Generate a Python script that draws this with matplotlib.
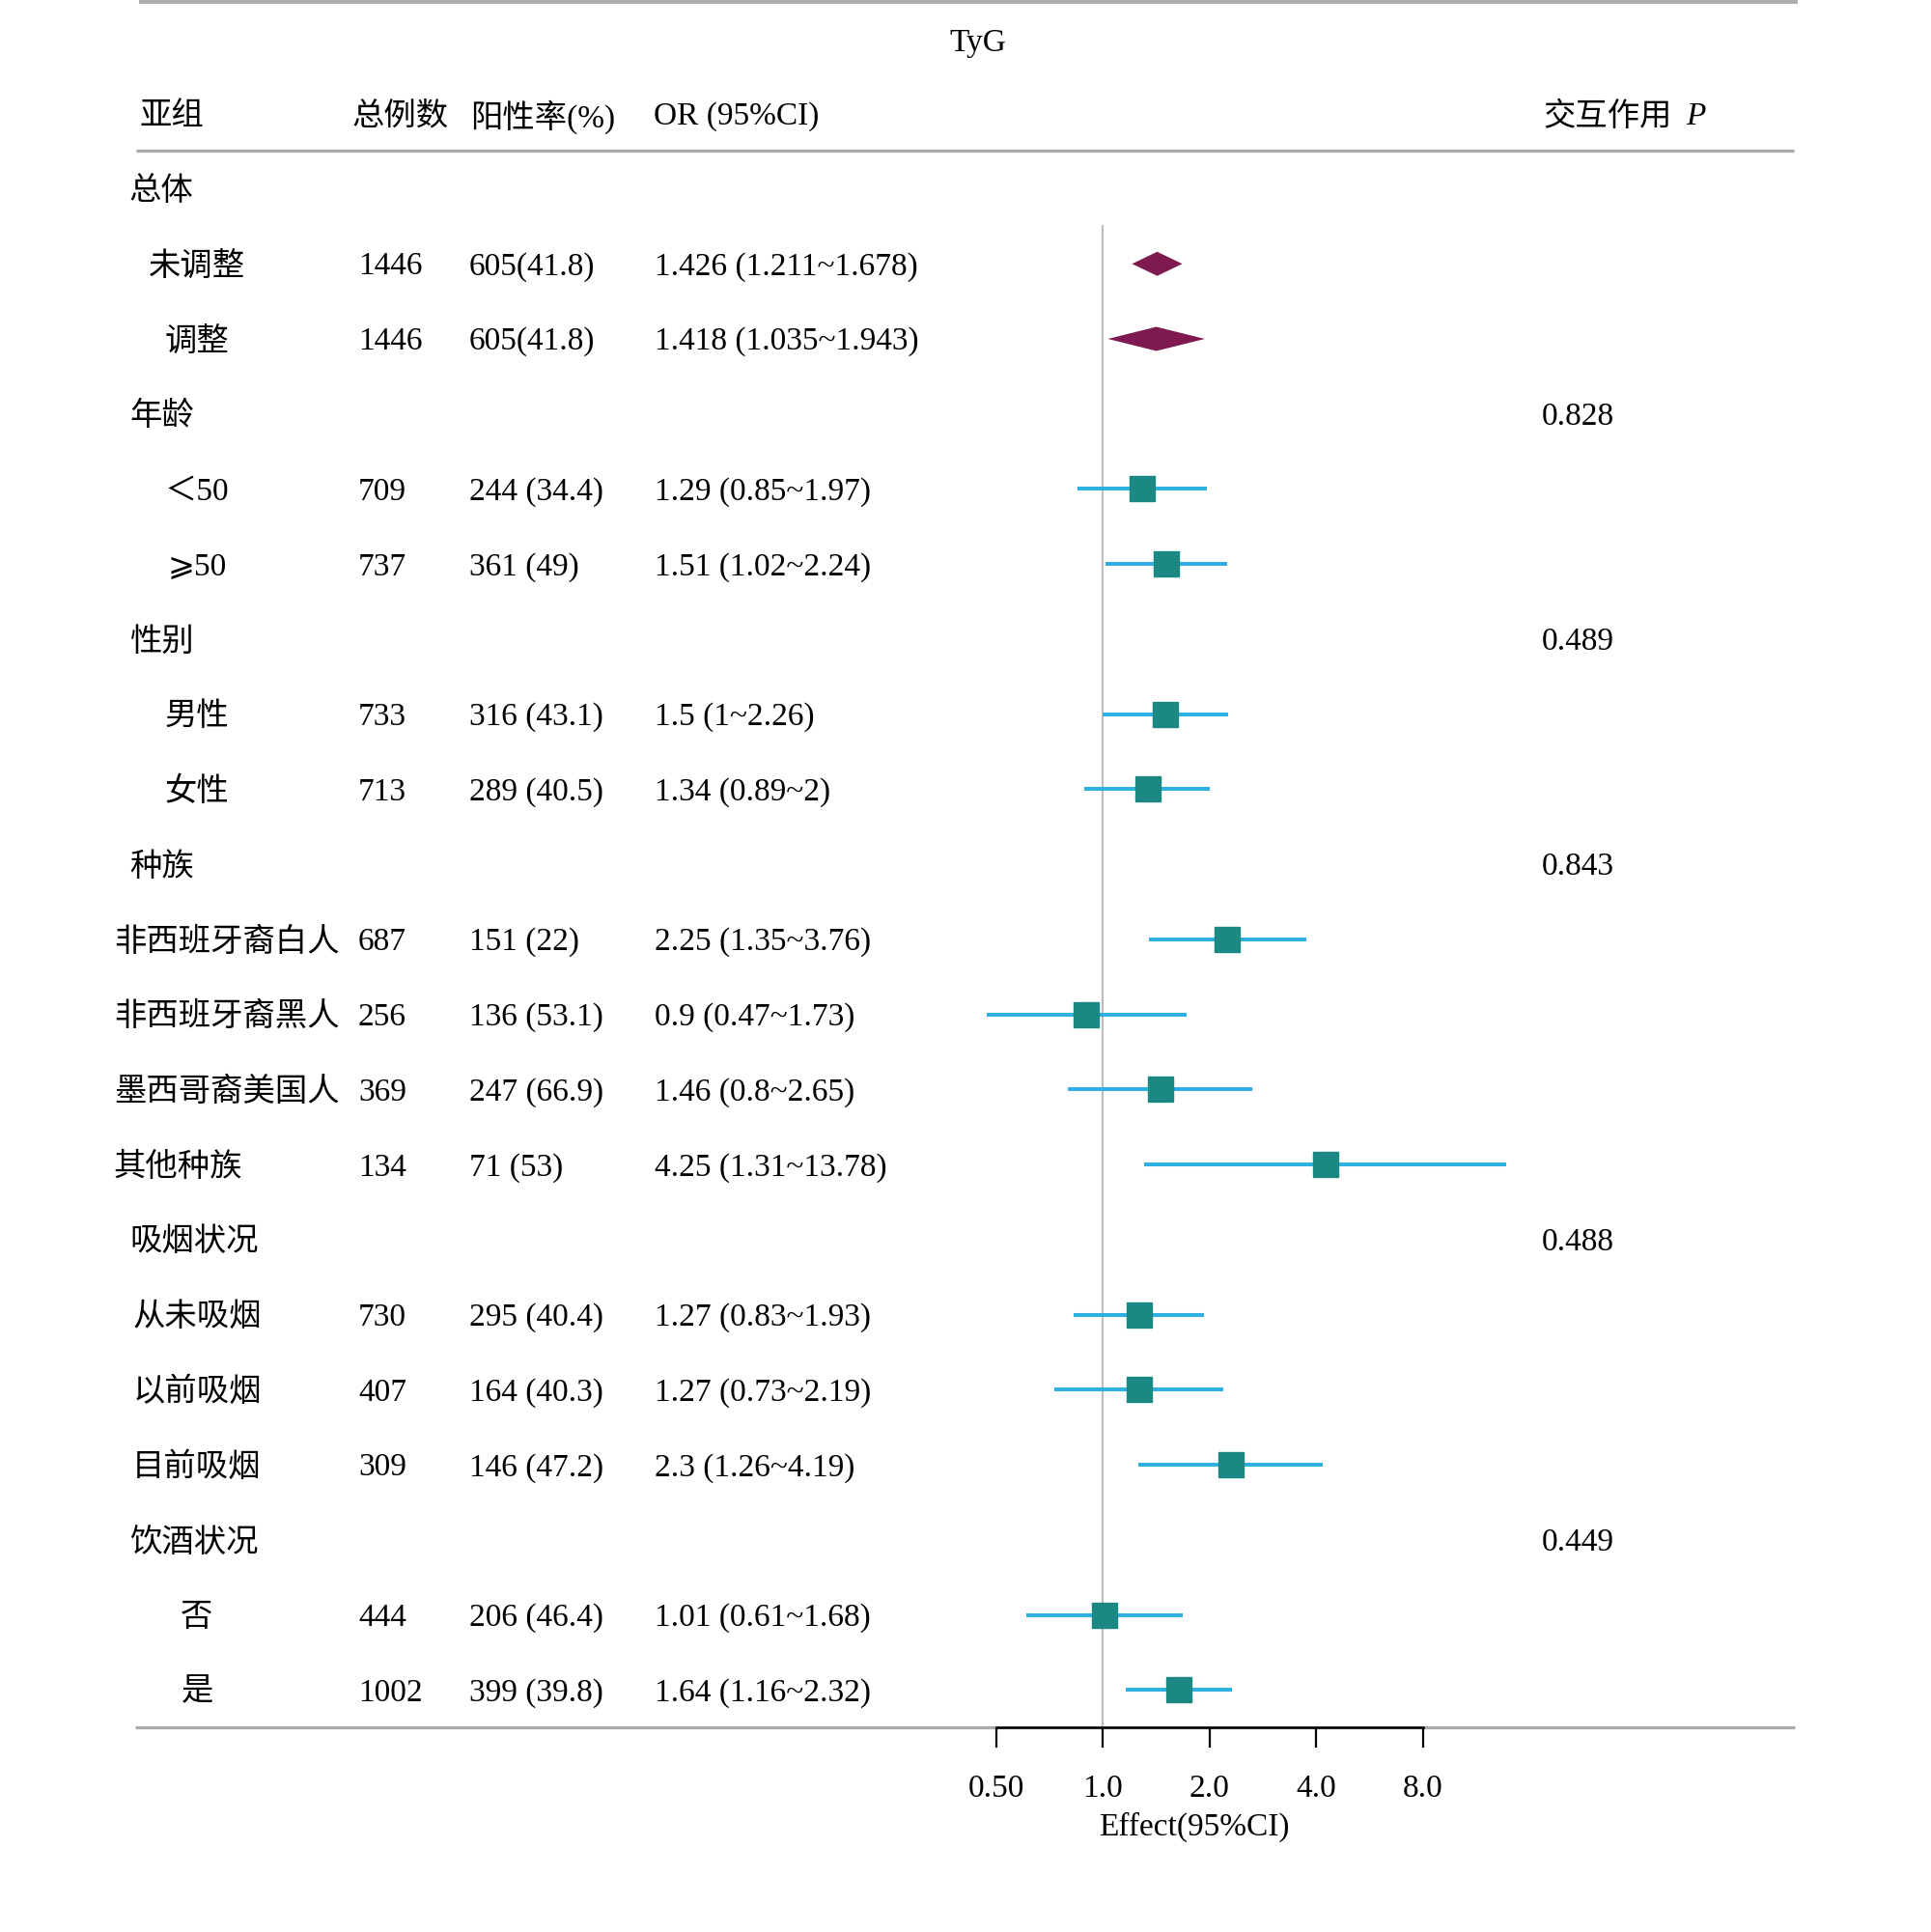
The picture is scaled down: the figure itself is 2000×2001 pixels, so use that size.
import numpy as np
import matplotlib
matplotlib.use("Agg")
import matplotlib.pyplot as plt

plt.rcParams['font.family'] = ['Liberation Serif', 'Noto Sans CJK SC', 'DejaVu Sans']

# ---------------- data ----------------
labels = ["总体", "未调整", "调整", "年龄", "＜50", "⩾50", "性别", "男性", "女性",
          "种族", "非西班牙裔白人", "非西班牙裔黑人", "墨西哥裔美国人", "其他种族",
          "吸烟状况", "从未吸烟", "以前吸烟", "目前吸烟", "饮酒状况", "否", "是"]
row_kind = ["group", "sub", "sub", "group", "sub", "sub", "group", "sub", "sub",
            "group", "race", "race", "race", "race",
            "group", "sub", "sub", "sub", "group", "sub", "sub"]
n_total = ["", "1446", "1446", "", "709", "737", "", "733", "713", "",
           "687", "256", "369", "134", "", "730", "407", "309", "", "444", "1002"]
pos_rate = ["", "605(41.8)", "605(41.8)", "", "244 (34.4)", "361 (49)", "",
            "316 (43.1)", "289 (40.5)", "", "151 (22)", "136 (53.1)", "247 (66.9)",
            "71 (53)", "", "295 (40.4)", "164 (40.3)", "146 (47.2)", "",
            "206 (46.4)", "399 (39.8)"]
or_text = ["", "1.426 (1.211~1.678)", "1.418 (1.035~1.943)", "", "1.29 (0.85~1.97)",
           "1.51 (1.02~2.24)", "", "1.5 (1~2.26)", "1.34 (0.89~2)", "",
           "2.25 (1.35~3.76)", "0.9 (0.47~1.73)", "1.46 (0.8~2.65)",
           "4.25 (1.31~13.78)", "", "1.27 (0.83~1.93)", "1.27 (0.73~2.19)",
           "2.3 (1.26~4.19)", "", "1.01 (0.61~1.68)", "1.64 (1.16~2.32)"]
nan = np.nan
est = [nan, 1.426, 1.418, nan, 1.29, 1.51, nan, 1.5, 1.34, nan,
       2.25, 0.9, 1.46, 4.25, nan, 1.27, 1.27, 2.3, nan, 1.01, 1.64]
lo = [nan, 1.211, 1.035, nan, 0.85, 1.02, nan, 1.0, 0.89, nan,
      1.35, 0.47, 0.8, 1.31, nan, 0.83, 0.73, 1.26, nan, 0.61, 1.16]
hi = [nan, 1.678, 1.943, nan, 1.97, 2.24, nan, 2.26, 2.0, nan,
      3.76, 1.73, 2.65, 13.78, nan, 1.93, 2.19, 4.19, nan, 1.68, 2.32]
summary_rows = [1, 2]
p_int = ["", "", "", "0.828", "", "", "0.489", "", "", "0.843", "", "", "", "",
         "0.488", "", "", "", "0.449", "", ""]
xticks = [0.5, 1, 2, 4, 8]
xtick_labels = ["0.50", "1.0", "2.0", "4.0", "8.0"]

headers = ["亚组", "总例数", "阳性率(%)", "OR (95%CI)"]
title = "TyG"

# ---------------- layout (pixels) ----------------
W, H = 2000, 2001
FS = 24
y0, dy = 195.5, 77.75
ys = np.array([y0 + i * dy for i in range(len(labels))])
TY = 3  # text baseline nudge

fig = plt.figure(figsize=(W / 100, H / 100), dpi=100)
ax = fig.add_axes([0, 0, 1, 1])
ax.set_xlim(0, W)
ax.set_ylim(H, 0)
ax.axis('off')

line_col = '#ABABAB'
ax.plot([144, 1862], [2.5, 2.5], color=line_col, lw=2.8, solid_capstyle='butt')
ax.plot([141, 1858], [156, 156], color=line_col, lw=2.3, solid_capstyle='butt')
ax.plot([140, 1859], [1789, 1789], color=line_col, lw=2.3, solid_capstyle='butt')

ax.text(1013, 42 + TY, title, fontsize=FS, ha='center', va='center')
hx = [144, 365, 487, 677]
for x, h in zip(hx, headers):
    ax.text(x, 118 + TY, h, fontsize=FS, ha='left', va='center')
ax.text(1598, 118 + TY, "交互作用", fontsize=FS, ha='left', va='center')
ax.text(1746, 118 + TY, "P", fontsize=FS, ha='left', va='center', style='italic')

for i, y in enumerate(ys):
    yt = y + TY
    k = row_kind[i]
    if k == "group":
        ax.text(134, yt, labels[i], fontsize=FS, ha='left', va='center')
    elif k == "race":
        ax.text(118, yt, labels[i], fontsize=FS, ha='left', va='center')
    else:
        ax.text(204, yt, labels[i], fontsize=FS, ha='center', va='center')
    if n_total[i]:
        ax.text(371, yt, n_total[i], fontsize=FS, ha='left', va='center')
    if pos_rate[i]:
        ax.text(486, yt, pos_rate[i], fontsize=FS, ha='left', va='center')
    if or_text[i]:
        ax.text(678, yt, or_text[i], fontsize=FS, ha='left', va='center')
    if p_int[i]:
        ax.text(1597, yt, p_int[i], fontsize=FS, ha='left', va='center')

# ---------------- forest axes ----------------
X1, PPD = 1142.0, 110.5  # pixel of OR=1, pixels per doubling
L, R = 950, 1700
axf = fig.add_axes([L / W, 0, (R - L) / W, 1])
axf.patch.set_alpha(0)
axf.set_xscale('log', base=2)
axf.set_xlim(2 ** ((L - X1) / PPD), 2 ** ((R - X1) / PPD))
axf.set_ylim(H, 0)

axf.plot([1, 1], [234, 1789], color='#BDBDBD', lw=1.5, zorder=1)

est_a, lo_a, hi_a = np.array(est), np.array(lo), np.array(hi)
sub = [i for i in range(len(labels)) if not np.isnan(est_a[i]) and i not in summary_rows]
axf.hlines(ys[sub], lo_a[sub], hi_a[sub], color='#2EB1E2', lw=2.9, zorder=2)
axf.plot(est_a[sub], ys[sub], linestyle='none', marker='s', ms=19.4,
         color='#1B8884', mec='#1B8884', zorder=3)
for i in summary_rows:
    axf.fill([lo_a[i], est_a[i], hi_a[i], est_a[i]],
             [ys[i], ys[i] - 12.5, ys[i], ys[i] + 12.5],
             color='#7E1A50', lw=0, zorder=3)

for s in ['top', 'right', 'left']:
    axf.spines[s].set_visible(False)
axf.spines['bottom'].set_position(('data', 1789))
axf.spines['bottom'].set_bounds(0.5, 8)
axf.spines['bottom'].set_linewidth(1.8)
axf.set_xticks(xticks)
axf.set_xticklabels(xtick_labels, fontsize=FS)
axf.xaxis.set_minor_locator(matplotlib.ticker.NullLocator())
axf.tick_params(axis='x', direction='out', length=15, width=1.6, pad=20)
axf.set_yticks([])

ax.text(1237, 1892, "Effect(95%CI)", fontsize=FS, ha='center', va='center')

fig.savefig("out.png", dpi=100)
